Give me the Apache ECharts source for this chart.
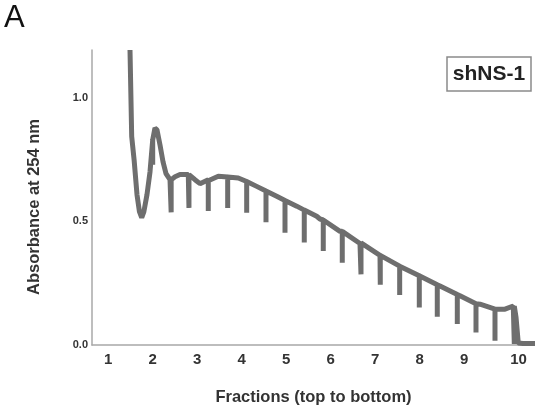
<!DOCTYPE html>
<html>
<head>
<meta charset="utf-8">
<script src="https://cdn.jsdelivr.net/npm/echarts@6/dist/echarts.min.js"></script>
<style>
html,body{margin:0;padding:0;background:#fff;}
#chart{width:535px;height:411px;}
</style>
</head>
<body>
<div id="chart"></div>
<script>
// Tick positions of the fraction labels (fraction units) and their texts
const fractionTicks = [1, 2, 3, 4, 5, 6, 7, 8, 9, 10.22];
const fractionLabels = ['1', '2', '3', '4', '5', '6', '7', '8', '9', '10'];
const yTickValues = [0.0, 0.5, 1.0];

// Smooth absorbance trace (x in fraction units, y in absorbance)
const curveX = [1.488, 1.526, 1.58, 1.645, 1.70, 1.751, 1.80, 1.87, 1.937, 2.004, 2.049, 2.094, 2.162, 2.229, 2.297, 2.387, 2.50, 2.611, 2.798, 2.948, 3.06, 3.247, 3.472, 3.697, 3.921, 4.11, 4.335, 4.56, 4.784, 5.009, 5.234, 5.42, 5.683, 5.757, 6.207, 6.656, 7.106, 7.555, 8.004, 8.454, 8.903, 9.353, 9.69, 9.915, 10.101, 10.162, 10.213, 10.319, 10.589];
const curveY = [1.194, 0.844, 0.75, 0.609, 0.54, 0.515, 0.54, 0.609, 0.70, 0.83, 0.878, 0.871, 0.81, 0.742, 0.694, 0.669, 0.681, 0.69, 0.69, 0.669, 0.653, 0.669, 0.683, 0.68, 0.676, 0.662, 0.642, 0.622, 0.602, 0.582, 0.562, 0.544, 0.521, 0.51, 0.46, 0.411, 0.363, 0.319, 0.279, 0.239, 0.199, 0.165, 0.145, 0.145, 0.158, 0.113, 0.008, 0.006, 0.006];

// Fraction-marker spikes: position, trace level at top, spike bottom
const spikeX = [1.998, 2.413, 2.813, 3.247, 3.683, 4.11, 4.544, 4.971, 5.404, 5.831, 6.258, 6.679, 7.112, 7.548, 7.989, 8.393, 8.843, 9.263, 9.69, 10.124];
const spikeTop = [0.83, 0.669, 0.69, 0.665, 0.68, 0.662, 0.623, 0.585, 0.546, 0.506, 0.46, 0.413, 0.363, 0.319, 0.28, 0.244, 0.204, 0.167, 0.145, 0.157];
const spikeBottom = [0.73, 0.537, 0.555, 0.542, 0.555, 0.535, 0.497, 0.454, 0.415, 0.38, 0.333, 0.286, 0.244, 0.202, 0.152, 0.114, 0.085, 0.051, 0.017, 0.004];

// Merge trace and spikes into one ordered path
const items = [];
curveX.forEach((x, i) => items.push({ x: x, pts: [[x, curveY[i]]] }));
spikeX.forEach((x, i) => items.push({ x: x, pts: [[x, spikeTop[i]], [x, spikeBottom[i]], [x, spikeTop[i]]] }));
items.sort((a, b) => a.x - b.x);
const pathData = [];
items.forEach(it => it.pts.forEach(p => pathData.push(p)));

const FONT = "'Liberation Sans', Arial, Helvetica, sans-serif";
const chart = echarts.init(document.getElementById('chart'), null, { renderer: 'canvas' });
chart.setOption({
  animation: false,
  backgroundColor: '#ffffff',
  grid: { left: 92, right: 0, top: 50, bottom: 65, containLabel: false },
  xAxis: {
    type: 'value',
    min: 0.634,
    max: 10.589,
    name: 'Fractions (top to bottom)',
    nameLocation: 'middle',
    nameGap: 44,
    nameTextStyle: { fontFamily: FONT, fontWeight: 'bold', fontSize: 16.5, color: '#333' },
    axisLine: { show: true, onZero: false, lineStyle: { color: '#a8a8a8', width: 1.5 } },
    axisTick: { show: false },
    splitLine: { show: false },
    axisLabel: {
      customValues: fractionTicks,
      formatter: function (v) {
        const i = fractionTicks.findIndex(t => Math.abs(t - v) < 1e-6);
        return i >= 0 ? fractionLabels[i] : '';
      },
      margin: 7,
      fontFamily: FONT, fontWeight: 'bold', fontSize: 15, color: '#333'
    }
  },
  yAxis: {
    type: 'value',
    min: 0,
    max: 1.194,
    name: 'Absorbance at 254 nm',
    nameLocation: 'middle',
    nameGap: 49,
    nameTextStyle: { fontFamily: FONT, fontWeight: 'bold', fontSize: 16.5, color: '#333', padding: [0, 19, 0, 0] },
    axisLine: { show: true, lineStyle: { color: '#a8a8a8', width: 1.5 } },
    axisTick: { show: false },
    splitLine: { show: false },
    axisLabel: {
      customValues: yTickValues,
      formatter: function (v) { return v.toFixed(1); },
      margin: 4,
      fontFamily: FONT, fontWeight: 'bold', fontSize: 11, color: '#333'
    }
  },
  series: [{
    type: 'line',
    data: pathData,
    showSymbol: false,
    symbol: 'none',
    smooth: false,
    clip: true,
    lineStyle: { color: '#6e6e6e', width: 5, join: 'bevel', cap: 'butt' }
  }],
  graphic: [
    { type: 'text', left: 4, top: 3, style: { text: 'A', font: "31px " + FONT, fill: '#111' } },
    { type: 'rect', shape: { x: 447, y: 57, width: 84, height: 34 }, style: { fill: '#fff', stroke: '#8a8a8a', lineWidth: 1.5 } },
    { type: 'text', x: 489, y: 74.5, style: { text: 'shNS-1', font: "bold 21px " + FONT, fill: '#222', align: 'center', verticalAlign: 'middle' } }
  ]
});
</script>
</body>
</html>
